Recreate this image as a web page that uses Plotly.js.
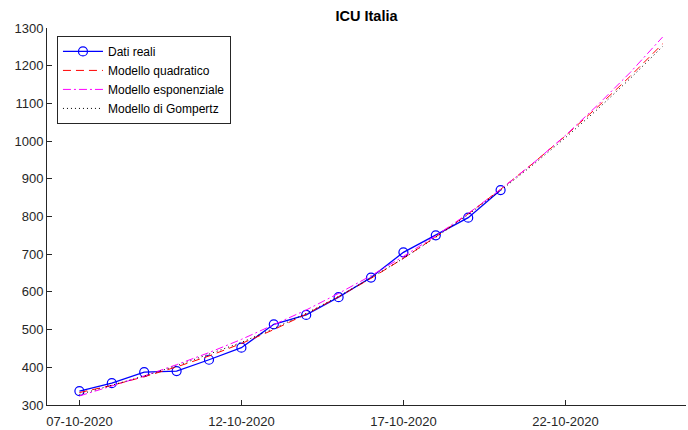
<!DOCTYPE html>
<html>
<head>
<meta charset="utf-8">
<script src="https://cdn.plot.ly/plotly-3.0.1.min.js"></script>
<style>html,body{margin:0;padding:0;background:#fff;}#chart{width:688px;height:430px;}</style>
</head>
<body>
<div id="chart"></div>
<script>
// Observed data (07-10-2020 .. 20-10-2020)
const datesReal = ['2020-10-07','2020-10-08','2020-10-09','2020-10-10','2020-10-11','2020-10-12','2020-10-13',
                   '2020-10-14','2020-10-15','2020-10-16','2020-10-17','2020-10-18','2020-10-19','2020-10-20'];
const icuReal = [337, 358, 387, 390, 420, 452, 514, 539, 586, 638, 705, 750, 797, 870];

// Model curves (07-10-2020 .. 25-10-2020)
const datesModel = ['2020-10-07','2020-10-08','2020-10-09','2020-10-10','2020-10-11','2020-10-12','2020-10-13',
                    '2020-10-14','2020-10-15','2020-10-16','2020-10-17','2020-10-18','2020-10-19','2020-10-20',
                    '2020-10-21','2020-10-22','2020-10-23','2020-10-24','2020-10-25'];
const quadratic = [333, 352, 375, 401, 430, 463, 500, 541, 587, 636, 689, 746, 807, 872, 941, 1014, 1091, 1172, 1258];
const exponential = [324, 350, 377, 407, 439, 474, 512, 552, 596, 643, 694, 749, 808, 872, 941, 1015, 1096, 1182, 1276];
const gompertz = [328, 352, 377, 404, 434, 466, 503, 543, 588, 637, 689, 745, 805, 869, 937, 1009, 1085, 1166, 1251];

const xTicks = ['2020-10-07','2020-10-12','2020-10-17','2020-10-22'];
const xTickText = ['07-10-2020','12-10-2020','17-10-2020','22-10-2020'];

const traces = [
  {x: datesReal, y: icuReal, name: 'Dati reali', type: 'scatter', mode: 'lines+markers',
   line: {color: '#0000ff', width: 1.3},
   marker: {symbol: 'circle-open', size: 9, color: '#0000ff', line: {width: 1.2, color: '#0000ff'}}},
  {x: datesModel, y: quadratic, name: 'Modello quadratico', type: 'scatter', mode: 'lines',
   line: {color: '#ff0000', width: 1, dash: '8px,5px'}},
  {x: datesModel, y: exponential, name: 'Modello esponenziale', type: 'scatter', mode: 'lines',
   line: {color: '#ff00ff', width: 1, dash: '8px,3px,2px,3px'}},
  {x: datesModel, y: gompertz, name: 'Modello di Gompertz', type: 'scatter', mode: 'lines',
   line: {color: '#000000', width: 1, dash: '1px,3px'}}
];

const layout = {
  width: 688, height: 430,
  margin: {l: 47, r: 2, t: 28, b: 25, pad: 0},
  paper_bgcolor: '#fff', plot_bgcolor: '#fff',
  font: {family: 'Liberation Sans, Arial, sans-serif', size: 13, color: '#262626'},
  title: {text: '<b>ICU Italia</b>', x: 0.5, xanchor: 'center', xref: 'paper', y: 0.963, yanchor: 'middle',
          font: {size: 14.5, color: '#000'}},
  showlegend: true,
  legend: {x: 0.0156, y: 0.979, xanchor: 'left', yanchor: 'top',
           bgcolor: '#fff', bordercolor: '#262626', borderwidth: 1, itemwidth: 40,
           font: {size: 12, color: '#000'}, tracegroupgap: 0},
  xaxis: {type: 'date', range: ['2020-10-06 00:00', '2020-10-25 17:20'],
          tickvals: xTicks, ticktext: xTickText, ticks: 'inside', ticklen: 5, tickcolor: '#262626',
          ticklabelstandoff: 4,
          showgrid: false, zeroline: false, showline: true, linecolor: '#262626', linewidth: 1,
          mirror: false, tickfont: {size: 13, color: '#262626'}},
  yaxis: {range: [300, 1300], dtick: 100, tick0: 300, ticks: 'inside', ticklen: 5, tickcolor: '#262626',
          showgrid: false, zeroline: false, showline: true, linecolor: '#262626', linewidth: 1,
          mirror: false, tickfont: {size: 13, color: '#262626'}}
};

Plotly.newPlot('chart', traces, layout, {displayModeBar: false, staticPlot: true});
</script>
</body>
</html>
